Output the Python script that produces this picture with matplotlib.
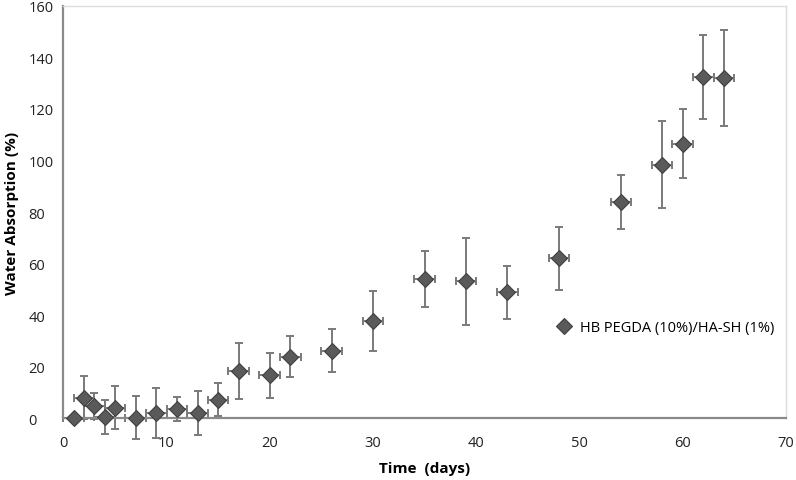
import matplotlib
matplotlib.use("Agg")
import matplotlib.pyplot as plt
from matplotlib.lines import Line2D

# data
days = [1, 2, 3, 4, 5, 7, 9, 11, 13, 15, 17, 20, 22, 26, 30,
        35, 39, 43, 48, 54, 58, 60, 62, 64]
absorption = [0.3, 8.1, 4.8, 0.5, 4.1, 0.3, 2.1, 3.7, 2.0, 7.3, 18.4, 16.8,
              24.0, 26.3, 37.8, 54.1, 53.1, 48.9, 62.1, 83.9, 98.4, 106.5,
              132.3, 132.0]
abs_err = [0.6, 8.5, 5.0, 6.5, 8.3, 8.3, 9.6, 4.8, 8.5, 6.4, 10.7, 8.7,
           8.0, 8.4, 11.5, 11.0, 16.8, 10.3, 12.3, 10.5, 17.0, 13.3,
           16.3, 18.7]
day_err = [1.0] * len(days)

series_label = "HB PEGDA (10%)/HA-SH (1%)"

plt.rcParams['font.family'] = ['Open Sans', 'DejaVu Sans']

fig = plt.figure(figsize=(7.96, 4.81), dpi=100)
ax = fig.add_axes([0.0795, 0.128, 0.908, 0.858])

marker_style = dict(marker='D', ms=8, mfc='#5a5a5a', mec='#404040', mew=0.8)

eb = ax.errorbar(days, absorption, yerr=abs_err, xerr=day_err, fmt='none',
                 ecolor='#7a7a7a', elinewidth=1.4, capsize=3.2, capthick=1.4)
for art in eb.lines[1] + eb.lines[2]:
    art.set_clip_on(False)
ax.plot(days, absorption, ls='none', clip_on=False, zorder=3, **marker_style)

ax.set_xlim(0, 70)
ax.set_ylim(0, 160)
ax.set_xticks(range(0, 71, 10))
ax.set_yticks(range(0, 161, 20))

for side in ['left', 'bottom']:
    ax.spines[side].set_color('#8a8a8a')
    ax.spines[side].set_linewidth(1.6)
for side in ['top', 'right']:
    ax.spines[side].set_color('#dcdcdc')
    ax.spines[side].set_linewidth(1.0)

ax.tick_params(axis='both', length=0, labelsize=10.5, colors='#222222')
ax.tick_params(axis='x', pad=12)
ax.tick_params(axis='y', pad=25)
for lab in ax.get_yticklabels():
    lab.set_horizontalalignment('left')

ax.set_xlabel('Time  (days)', fontsize=11, fontweight='bold', labelpad=8)
ax.set_ylabel('Water Absorption (%)', fontsize=11, fontweight='bold',
              labelpad=7)

handle = Line2D([], [], ls='none', **marker_style)
ax.legend([handle], [series_label], loc='center left',
          bbox_to_anchor=(0.674, 0.22), frameon=False, fontsize=10.5,
          handletextpad=0.6, handlelength=1.0, borderaxespad=0)

fig.savefig('out.png', dpi=100)
